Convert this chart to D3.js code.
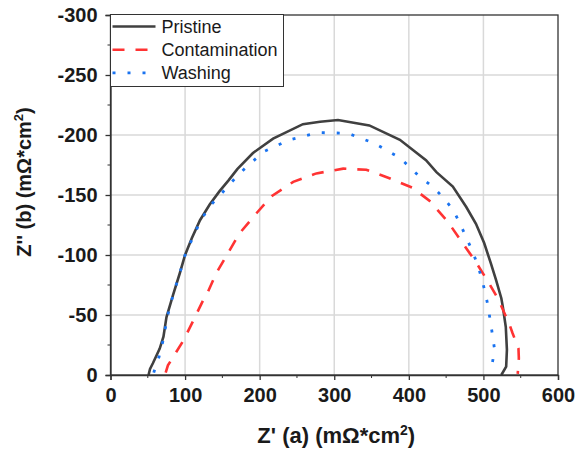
<!DOCTYPE html>
<html>
<head>
<meta charset="utf-8">
<script src="https://cdn.jsdelivr.net/npm/d3@7"></script>
<style>
  body { margin: 0; background: #fff; }
  svg text { font-family: Arial, "Liberation Sans", sans-serif; fill: #1a1a1a; }
  .tick text { font-weight: bold; font-size: 20px; }
  .axisTitle { font-weight: bold; font-size: 22px; }
  .legendText { font-size: 18px; }
</style>
</head>
<body>
<div id="chart"></div>
<script>
// Nyquist data: [Z' (a), Z'' (b)] in mOhm*cm2
const seriesNames = ["Pristine", "Contamination", "Washing"];

const pristine = [
  [51, 0], [53, -5], [57, -10], [66, -22], [71, -32], [75, -48], [84, -67],
  [93, -85], [100, -100], [109, -114], [120, -129], [133, -142], [146, -153],
  [158, -162], [170, -171.5], [191, -185], [218, -197], [258, -209], [281, -211],
  [305, -212.5], [347, -208], [388, -196], [423, -179], [437, -169], [459, -157],
  [477, -140], [490, -126], [501, -110], [510, -93], [517, -79], [524, -64],
  [526, -57], [530, -40], [531.5, -21], [530.5, -7], [524, 0]
];

const contamination = [
  [74, -2], [77, -8], [87, -18], [97, -28], [110, -44], [124, -62], [129, -67],
  [142, -85], [156, -100], [173, -118], [196, -135], [216, -149], [245, -161],
  [276, -168], [312, -172], [343, -171], [374, -164], [405, -156], [428, -145],
  [452, -128], [472, -110], [490, -94], [508, -76], [520, -63], [535, -42],
  [539, -35], [547, -22], [547.5, -14], [546, -1]
];

const washing = [
  [58, -2], [60, -6], [65, -15], [71, -30], [76, -48], [84, -67], [93, -85],
  [100, -100], [110, -114], [121, -129], [135, -142], [147, -150], [173, -168],
  [205, -186], [240, -196], [278, -202], [318, -201.5], [354, -193], [388, -181],
  [415, -165], [432, -157], [446, -148], [459, -138], [468, -127], [476, -116],
  [484, -105], [491, -94], [497, -82], [501.5, -71], [506, -58], [509, -46],
  [512, -34], [515, -21], [512, -10], [511, -4]
];

const xTicks = [0, 100, 200, 300, 400, 500, 600];
const xMinor = [50, 150, 250, 350, 450, 550];
const yTicks = [0, -50, -100, -150, -200, -250, -300];
const yMinor = [-25, -75, -125, -175, -225, -275];

const W = 576, H = 450;
const margin = { top: 15, left: 110.5, right: 18, bottom: 75 };
const width = W - margin.left - margin.right,
  height = H - margin.top - margin.bottom;

const svg = d3.select("#chart").append("svg")
  .attr("width", W)
  .attr("height", H);

const g = svg.append("g")
  .attr("transform", "translate(" + margin.left + "," + margin.top + ")");

const x = d3.scaleLinear().domain([0, 600]).range([0, width]);
const y = d3.scaleLinear().domain([0, -300]).range([height, 0]);

// grid
g.append("g").selectAll("line").data(xTicks.slice(1, -1)).join("line")
  .attr("x1", d => x(d)).attr("x2", d => x(d))
  .attr("y1", 0).attr("y2", height)
  .attr("stroke", "#d9d9d9").attr("stroke-width", 1.5);
g.append("g").selectAll("line").data(yTicks.slice(1, -1)).join("line")
  .attr("y1", d => y(d)).attr("y2", d => y(d))
  .attr("x1", 0).attr("x2", width)
  .attr("stroke", "#d9d9d9").attr("stroke-width", 1.5);

// curves
const line = d3.line().x(d => x(d[0])).y(d => y(d[1]));

g.append("path").datum(pristine)
  .attr("d", line).attr("fill", "none")
  .attr("stroke", "#404040").attr("stroke-width", 2.6);

g.append("path").datum(contamination)
  .attr("d", line).attr("fill", "none")
  .attr("stroke", "#ff3333").attr("stroke-width", 2.6)
  .attr("stroke-dasharray", "12,11");

g.append("path").datum(washing)
  .attr("d", line).attr("fill", "none")
  .attr("stroke", "#1a73f0").attr("stroke-width", 2.8)
  .attr("stroke-dasharray", "3,12");

// frame
g.append("rect")
  .attr("width", width).attr("height", height)
  .attr("fill", "none").attr("stroke", "#333").attr("stroke-width", 1.3);

// axes, labels use a plain hyphen like the original
const fmt = d => String(d);

const xAxis = g.append("g")
  .attr("transform", "translate(0," + height + ")")
  .call(d3.axisBottom(x).tickValues(xTicks).tickFormat(fmt).tickSize(5).tickPadding(8));
xAxis.append("g").selectAll("line").data(xMinor).join("line")
  .attr("x1", d => x(d)).attr("x2", d => x(d))
  .attr("y1", 0).attr("y2", 3).attr("stroke", "#333");

const yAxis = g.append("g")
  .call(d3.axisLeft(y).tickValues(yTicks).tickFormat(fmt).tickSize(5).tickPadding(8));
yAxis.append("g").selectAll("line").data(yMinor).join("line")
  .attr("y1", d => y(d)).attr("y2", d => y(d))
  .attr("x1", 0).attr("x2", -3).attr("stroke", "#333");

[xAxis, yAxis].forEach(a => {
  a.select(".domain").attr("stroke", "#333").attr("stroke-width", 1.3);
  a.selectAll(".tick line").attr("stroke", "#333").attr("stroke-width", 1.3);
  a.selectAll(".tick text").attr("fill", "#1a1a1a");
});

// axis titles
const xt = svg.append("text").attr("class", "axisTitle")
  .attr("x", margin.left + width / 2 + 2).attr("y", 443)
  .attr("text-anchor", "middle");
xt.append("tspan").text("Z' (a) (mΩ*cm");
xt.append("tspan").attr("dy", -8).attr("font-size", 14).text("2");
xt.append("tspan").attr("dy", 8).text(")");

const yt = svg.append("text").attr("class", "axisTitle")
  .style("font-size", "20px")
  .attr("transform", "translate(31," + 182 + ") rotate(-90)")
  .attr("text-anchor", "middle");
yt.append("tspan").text("Z'' (b) (mΩ*cm");
yt.append("tspan").attr("dy", -8).attr("font-size", 13).text("2");
yt.append("tspan").attr("dy", 8).text(")");

// legend
const legendData = [
  { name: seriesNames[0], color: "#404040", dash: null, w: 2.6 },
  { name: seriesNames[1], color: "#ff3333", dash: "12,11", w: 2.6 },
  { name: seriesNames[2], color: "#1a73f0", dash: "3,12", w: 2.8 }
];
const legend = svg.append("g").attr("transform", "translate(110.5,14.5)");
legend.append("rect")
  .attr("width", 173).attr("height", 72)
  .attr("fill", "#fff").attr("stroke", "#333").attr("stroke-width", 1);
const items = legend.selectAll(".item").data(legendData).join("g")
  .attr("transform", (d, i) => "translate(0," + (12 + i * 23.2) + ")");
items.append("line")
  .attr("x1", 2).attr("x2", 45)
  .attr("stroke", d => d.color).attr("stroke-width", d => d.w)
  .attr("stroke-dasharray", d => d.dash);
items.append("text").attr("class", "legendText")
  .attr("x", 51).attr("y", 6.5)
  .text(d => d.name);
</script>
</body>
</html>
